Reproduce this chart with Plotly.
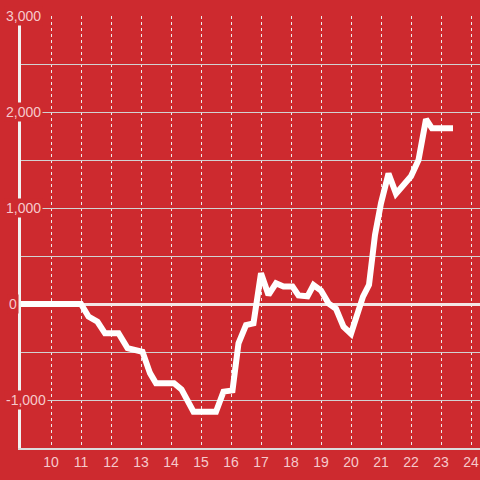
import plotly.graph_objects as go

# Running total across the day (hour of day -> value)
hours = [9.0, 11.0, 11.25, 11.55, 11.8, 12.25, 12.55, 13.05, 13.3, 13.5,
         14.1, 14.35, 14.75, 15.5, 15.75, 16.05, 16.25, 16.5, 16.75, 17.0,
         17.25, 17.5, 17.75, 18.05, 18.25, 18.55, 18.75, 19.0, 19.25, 19.5,
         19.75, 20.0, 20.4, 20.6, 20.8, 21.0, 21.25, 21.5, 21.75, 22.0,
         22.25, 22.5, 22.7, 23.4]
values = [0, 0, -130, -185, -305, -305, -460, -497, -720, -826,
          -826, -890, -1122, -1122, -913, -900, -410, -219, -201, 320,
          94, 215, 181, 181, 90, 80, 198, 140, 7, -50,
          -236, -310, 76, 200, 720, 1050, 1360, 1150, 1240, 1330,
          1500, 1925, 1830, 1830]

x_ticks = list(range(10, 25))
y_ticks = [3000, 2000, 1000, 0, -1000]
y_tick_labels = ["3,000", "2,000", "1,000", "0", "-1,000"]

BG = "#cd2a2f"
LABEL = "#f6c9cb"
FONT = "Arial, Liberation Sans, sans-serif"

fig = go.Figure()
fig.add_trace(go.Scatter(
    x=hours, y=values, mode="lines",
    line=dict(color="#ffffff", width=6),
    hoverinfo="skip",
))

# y tick labels sit on top of the axis line with a background patch
for v, txt in zip(y_ticks, y_tick_labels):
    fig.add_annotation(
        x=0, xref="paper", y=v, yref="y", text=txt, showarrow=False,
        xanchor="left", xshift=-17 if txt != "0" else -14,
        font=dict(family=FONT, size=14, color=LABEL),
        bgcolor=BG, borderpad=1,
    )

fig.update_xaxes(
    range=[9, 24.3], tickvals=x_ticks, showgrid=True,
    gridcolor="#ececec", griddash="dot", gridwidth=1,
    showline=True, linecolor="#dcdcdc", linewidth=1.5,
    zeroline=False, ticks="", automargin=False,
    tickfont=dict(family=FONT, size=14, color=LABEL),
)
fig.update_yaxes(
    range=[-1500, 3000], dtick=500, showticklabels=False,
    showgrid=True, gridcolor="#d2d2d2", gridwidth=1,
    zeroline=True, zerolinecolor="#f3e6e6", zerolinewidth=3,
    showline=True, linecolor="#f2f2f2", linewidth=3, ticks="",
    automargin=False,
)
fig.update_layout(
    width=480, height=480,
    paper_bgcolor=BG, plot_bgcolor=BG,
    margin=dict(l=21, r=0, t=16, b=32),
    showlegend=False,
    font=dict(family=FONT),
)

# drop the page's default 8px body margin so the chart fills the window
fig.write_html(
    "out.html",
    config={"displayModeBar": False},
    post_script=f"document.body.style.margin='0';document.body.style.background='{BG}';",
)
